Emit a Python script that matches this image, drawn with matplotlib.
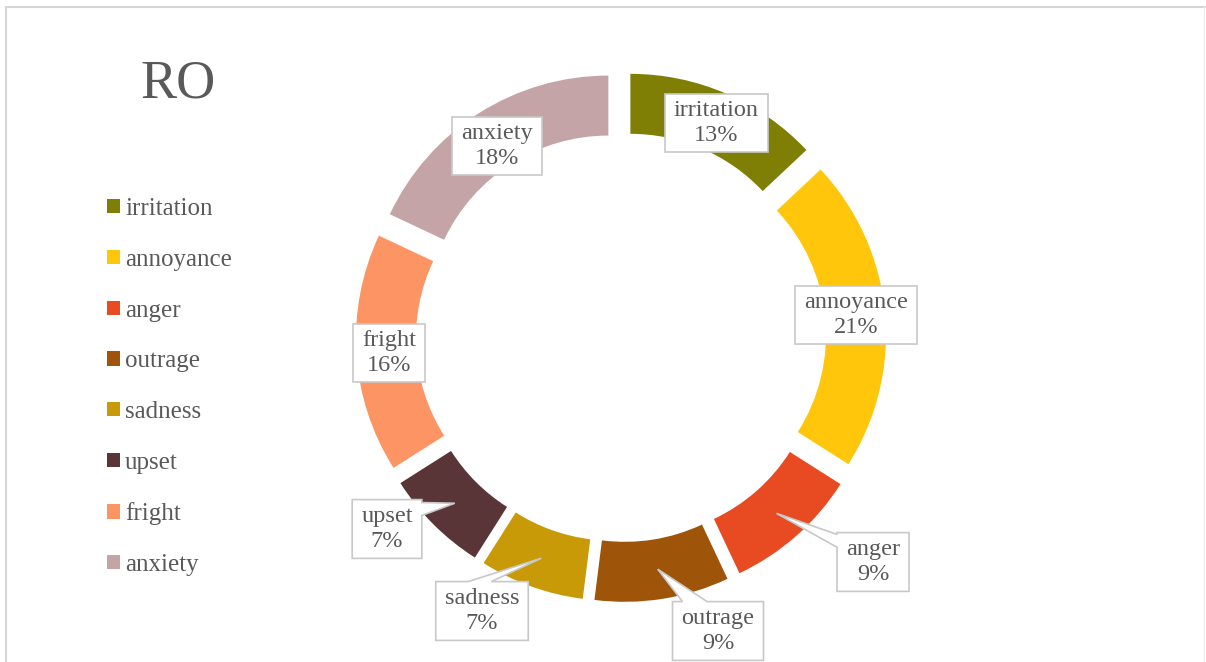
import numpy as np
import matplotlib
matplotlib.use("Agg")
import matplotlib.pyplot as plt
from matplotlib.patches import Polygon
from matplotlib.lines import Line2D

plt.rcParams["font.family"] = ["Liberation Serif", "DejaVu Serif"]

# Emotion shares (percent)
categories = ["irritation", "annoyance", "anger", "outrage",
              "sadness", "upset", "fright", "anxiety"]
values = [13, 21, 9, 9, 7, 7, 16, 18]
colors = ["#7F7F05", "#FFC60B", "#E84A22", "#9E5509",
          "#C99A07", "#5A3538", "#FC9563", "#C4A4A6"]
title = "RO"

W, H = 1206, 662
TEXT_COLOR = "#595959"
BOX_EDGE = "#C8C8C8"

fig = plt.figure(figsize=(W / 100, H / 100), dpi=100)
ax = fig.add_axes([0, 0, 1, 1])

# ring geometry in pixel units
center = (621, H - 337)
radius = 241.5
ring = 60
explode_dist = 23.6

wedges, _ = ax.pie(values, colors=colors, startangle=90, counterclock=False,
                   radius=radius, center=center,
                   explode=[explode_dist] * len(values),
                   wedgeprops=dict(width=ring, edgecolor="none"))

ax.set_xlim(0, W)
ax.set_ylim(0, H)
ax.set_aspect("equal")
ax.axis("off")

# label box centers (x, y from top) and optional callout pointer:
# (edge, start fraction, end fraction) measured from top / left of the box
label_pos = {
    "irritation": (716, 123, None),
    "annoyance": (856, 315, None),
    "anger": (873, 562, ("left", 0.03, 0.25)),
    "outrage": (718, 631, ("top", 0.11, 0.38)),
    "sadness": (482, 611, ("top", 0.35, 0.60)),
    "upset": (387, 529, ("right", 0.05, 0.27)),
    "fright": (389, 353, None),
    "anxiety": (497, 146, None),
}

texts = {}
for name, val in zip(categories, values):
    x, y, _ = label_pos[name]
    t = ax.text(x, H - y, f"{name}\n{val}%", ha="center", va="center",
                fontsize=17.5, color=TEXT_COLOR, linespacing=1.3, zorder=5)
    texts[name] = t

fig.canvas.draw()
renderer = fig.canvas.get_renderer()
pad_x, pad_y = 9, 8

for name, wedge in zip(categories, wedges):
    bb = texts[name].get_window_extent(renderer)
    x0, x1 = bb.x0 - pad_x, bb.x1 + pad_x
    y0, y1 = bb.y0 - pad_y + 2, bb.y1 + pad_y - 2
    pointer = label_pos[name][2]
    # corners clockwise from top-left (y upward)
    tl, tr, br, bl = (x0, y1), (x1, y1), (x1, y0), (x0, y0)
    verts = [tl, tr, br, bl]
    if pointer is not None:
        edge, f0, f1 = pointer
        th = np.deg2rad(0.5 * (wedge.theta1 + wedge.theta2))
        rmid = wedge.r - wedge.width / 2
        tip = (wedge.center[0] + rmid * np.cos(th),
               wedge.center[1] + rmid * np.sin(th))
        if edge == "top":
            a = (x0 + f0 * (x1 - x0), y1)
            b = (x0 + f1 * (x1 - x0), y1)
            verts = [tl, a, tip, b, tr, br, bl]
        elif edge == "left":
            a = (x0, y1 - f0 * (y1 - y0))
            b = (x0, y1 - f1 * (y1 - y0))
            verts = [tl, tr, br, bl, b, tip, a]
        elif edge == "right":
            a = (x1, y1 - f0 * (y1 - y0))
            b = (x1, y1 - f1 * (y1 - y0))
            verts = [tl, tr, a, tip, b, br, bl]
    ax.add_patch(Polygon(verts, closed=True, facecolor="white",
                         edgecolor=BOX_EDGE, linewidth=1.2, zorder=4))

# title
ax.text(178, H - 84, title, ha="center", va="center", fontsize=39,
        color=TEXT_COLOR)

# legend
leg = ax.legend(wedges, categories, loc="upper left",
                bbox_to_anchor=(107, H - 198), bbox_transform=ax.transData,
                frameon=False, fontsize=18, labelcolor=TEXT_COLOR,
                handlelength=0.5, handleheight=0.5, handletextpad=0.22,
                labelspacing=1.15, borderpad=0, borderaxespad=0)

# light frame lines along top and left
fig.add_artist(Line2D([6 / W, 1], [1 - 7 / H, 1 - 7 / H],
                      transform=fig.transFigure, color="#D6D6D6", lw=1.5))
fig.add_artist(Line2D([6 / W, 6 / W], [0, 1 - 7 / H],
                      transform=fig.transFigure, color="#D6D6D6", lw=1.5))
fig.add_artist(Line2D([1 - 2 / W, 1 - 2 / W], [0, 1 - 7 / H],
                      transform=fig.transFigure, color="#EEEEEE", lw=1))

fig.savefig("out.png", dpi=100, facecolor="white")
